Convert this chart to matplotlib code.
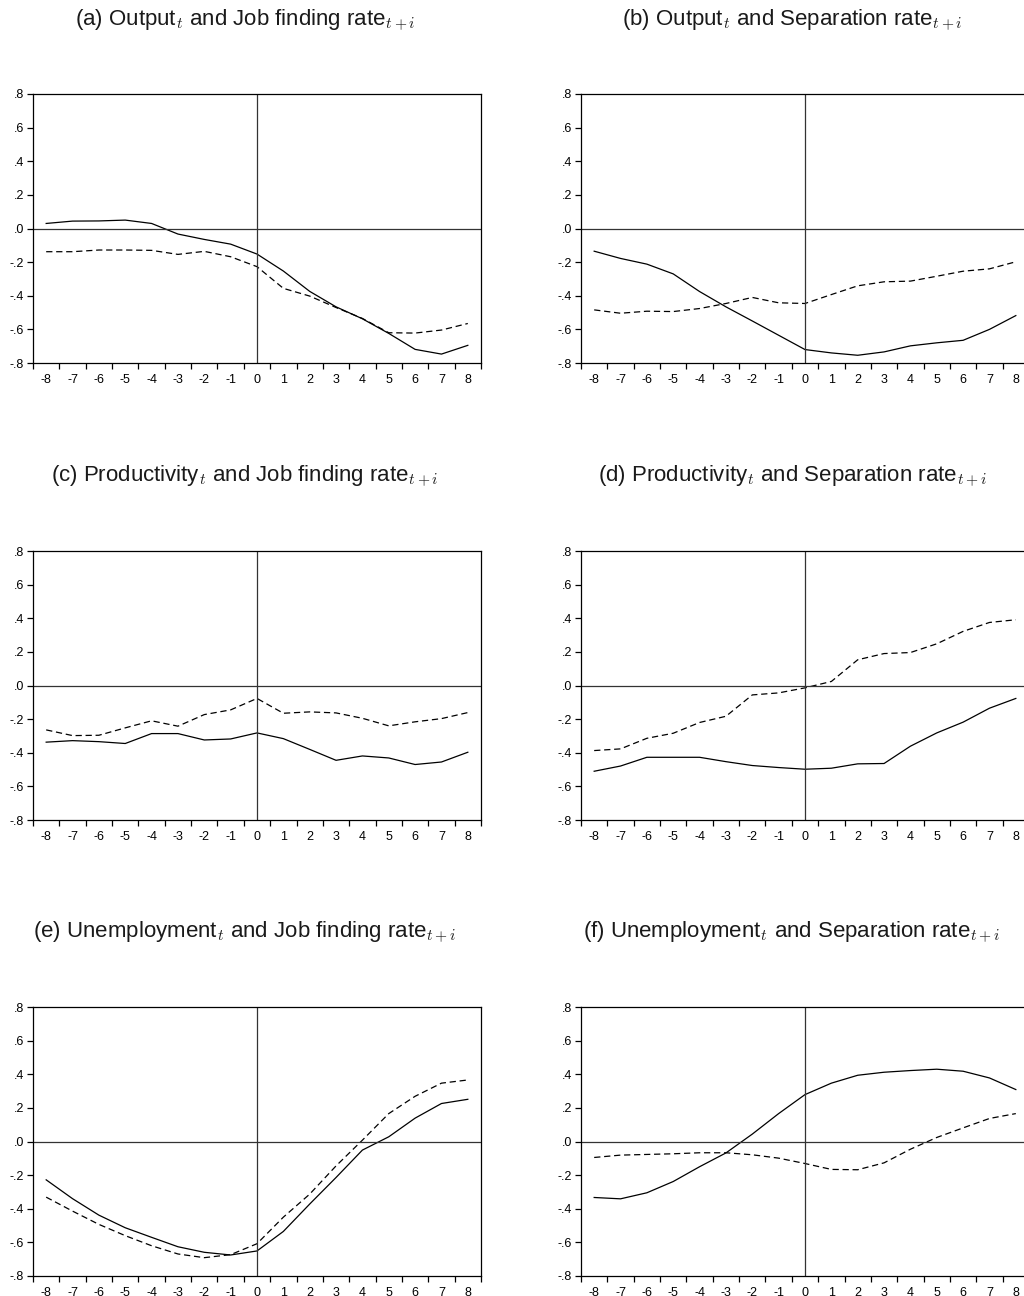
import matplotlib
matplotlib.use('Agg')
import matplotlib.pyplot as plt
import numpy as np

# ==========================================
# ДАННЫЕ: корреляции при лагах i = -8..8
# ==========================================
lags = np.arange(-8, 9)

# (a) Output и job finding rate
a_solid = [0.03, 0.044, 0.045, 0.05, 0.03, -0.033, -0.065, -0.093, -0.152,
           -0.253, -0.374, -0.466, -0.537, -0.624, -0.719, -0.747, -0.695]
a_dash = [-0.138, -0.138, -0.128, -0.128, -0.13, -0.154, -0.136, -0.168, -0.227,
          -0.356, -0.402, -0.47, -0.535, -0.62, -0.622, -0.604, -0.565]

# (b) Output и separation rate
b_solid = [-0.135, -0.178, -0.212, -0.27, -0.375, -0.466, -0.55, -0.635, -0.72,
           -0.74, -0.754, -0.734, -0.698, -0.68, -0.665, -0.6, -0.518]
b_dash = [-0.484, -0.504, -0.492, -0.494, -0.476, -0.446, -0.41, -0.442, -0.446,
          -0.393, -0.341, -0.317, -0.313, -0.284, -0.254, -0.24, -0.198]

# (c) Productivity и job finding rate
c_solid = [-0.337, -0.328, -0.334, -0.345, -0.286, -0.286, -0.324, -0.318, -0.282,
           -0.316, -0.38, -0.445, -0.419, -0.431, -0.47, -0.455, -0.397]
c_dash = [-0.264, -0.298, -0.296, -0.252, -0.21, -0.242, -0.173, -0.145, -0.077,
          -0.165, -0.157, -0.163, -0.195, -0.24, -0.216, -0.197, -0.161]

# (d) Productivity и separation rate
d_solid = [-0.51, -0.479, -0.427, -0.427, -0.427, -0.453, -0.476, -0.488, -0.498,
           -0.492, -0.466, -0.464, -0.361, -0.282, -0.218, -0.135, -0.077]
d_dash = [-0.387, -0.377, -0.314, -0.284, -0.22, -0.183, -0.056, -0.044, -0.014,
          0.024, 0.153, 0.19, 0.196, 0.248, 0.322, 0.375, 0.391]

# (e) Unemployment и job finding rate
e_solid = [-0.228, -0.34, -0.438, -0.513, -0.57, -0.626, -0.659, -0.675, -0.651,
           -0.535, -0.372, -0.214, -0.051, 0.028, 0.139, 0.226, 0.251]
e_dash = [-0.331, -0.414, -0.493, -0.56, -0.62, -0.669, -0.691, -0.673, -0.608,
          -0.45, -0.313, -0.145, 0.008, 0.166, 0.269, 0.347, 0.366]

# (f) Unemployment и separation rate
f_solid = [-0.333, -0.341, -0.305, -0.238, -0.15, -0.068, 0.044, 0.166, 0.279,
           0.347, 0.394, 0.412, 0.422, 0.43, 0.418, 0.378, 0.309]
f_dash = [-0.095, -0.081, -0.077, -0.073, -0.067, -0.067, -0.079, -0.099, -0.131,
          -0.166, -0.168, -0.127, -0.046, 0.024, 0.081, 0.137, 0.166]

titles = [
    r'(a) Output$_t$ and Job finding rate$_{t+i}$',
    r'(b) Output$_t$ and Separation rate$_{t+i}$',
    r'(c) Productivity$_t$ and Job finding rate$_{t+i}$',
    r'(d) Productivity$_t$ and Separation rate$_{t+i}$',
    r'(e) Unemployment$_t$ and Job finding rate$_{t+i}$',
    r'(f) Unemployment$_t$ and Separation rate$_{t+i}$',
]
series = [(a_solid, a_dash), (b_solid, b_dash), (c_solid, c_dash),
          (d_solid, d_dash), (e_solid, e_dash), (f_solid, f_dash)]

yticks = [0.8, 0.6, 0.4, 0.2, 0.0, -0.2, -0.4, -0.6, -0.8]
ytick_labels = ['.8', '.6', '.4', '.2', '.0', '-.2', '-.4', '-.6', '-.8']

# ==========================================
# ОФОРМЛЕНИЕ
# ==========================================
plt.rcParams['font.family'] = ['Liberation Sans', 'DejaVu Sans']
plt.rcParams['mathtext.fontset'] = 'cm'
plt.rcParams['axes.unicode_minus'] = False

W, H = 1024, 1296
fig = plt.figure(figsize=(W / 100, H / 100), dpi=100)

col_x = [33, 581]            # левый край осей, px
row_top = [94, 551, 1007]    # верх осей, px
ax_w, ax_h = 448, 269
title_x = [245, 792]
title_y = [21, 477, 933]

for k, (title, (solid, dash)) in enumerate(zip(titles, series)):
    r, c = divmod(k, 2)
    left = col_x[c] / W
    bottom = 1 - (row_top[r] + ax_h) / H
    ax = fig.add_axes([left, bottom, ax_w / W, ax_h / H])

    ax.plot(lags, solid, color='black', linewidth=0.9)
    ax.plot(lags, dash, color='black', linewidth=0.9, linestyle=(0, (5, 3)))
    ax.axhline(0, color='0.2', linewidth=0.9)
    ax.axvline(0, color='0.2', linewidth=0.9)

    ax.set_xlim(-8.5, 8.5)
    ax.set_ylim(-0.8, 0.8)

    # подписи по целым лагам, засечки между ними
    ax.set_xticks(lags)
    ax.set_xticklabels([str(v) for v in lags])
    ax.set_xticks(np.arange(-8.5, 9.0, 1.0), minor=True)
    ax.tick_params(axis='x', which='major', length=0, pad=8, labelsize=9)
    ax.tick_params(axis='x', which='minor', length=4.5, width=0.9, direction='out')

    ax.set_yticks(yticks)
    ax.set_yticklabels(ytick_labels)
    ax.tick_params(axis='y', length=4.5, width=0.9, direction='out', pad=2,
                   labelsize=9)
    for s in ax.spines.values():
        s.set_linewidth(0.9)

    fig.text(title_x[c] / W, 1 - title_y[r] / H, title, ha='center', va='center',
             fontsize=16, color='#1a1a1a')

fig.savefig('out.png', dpi=100)
